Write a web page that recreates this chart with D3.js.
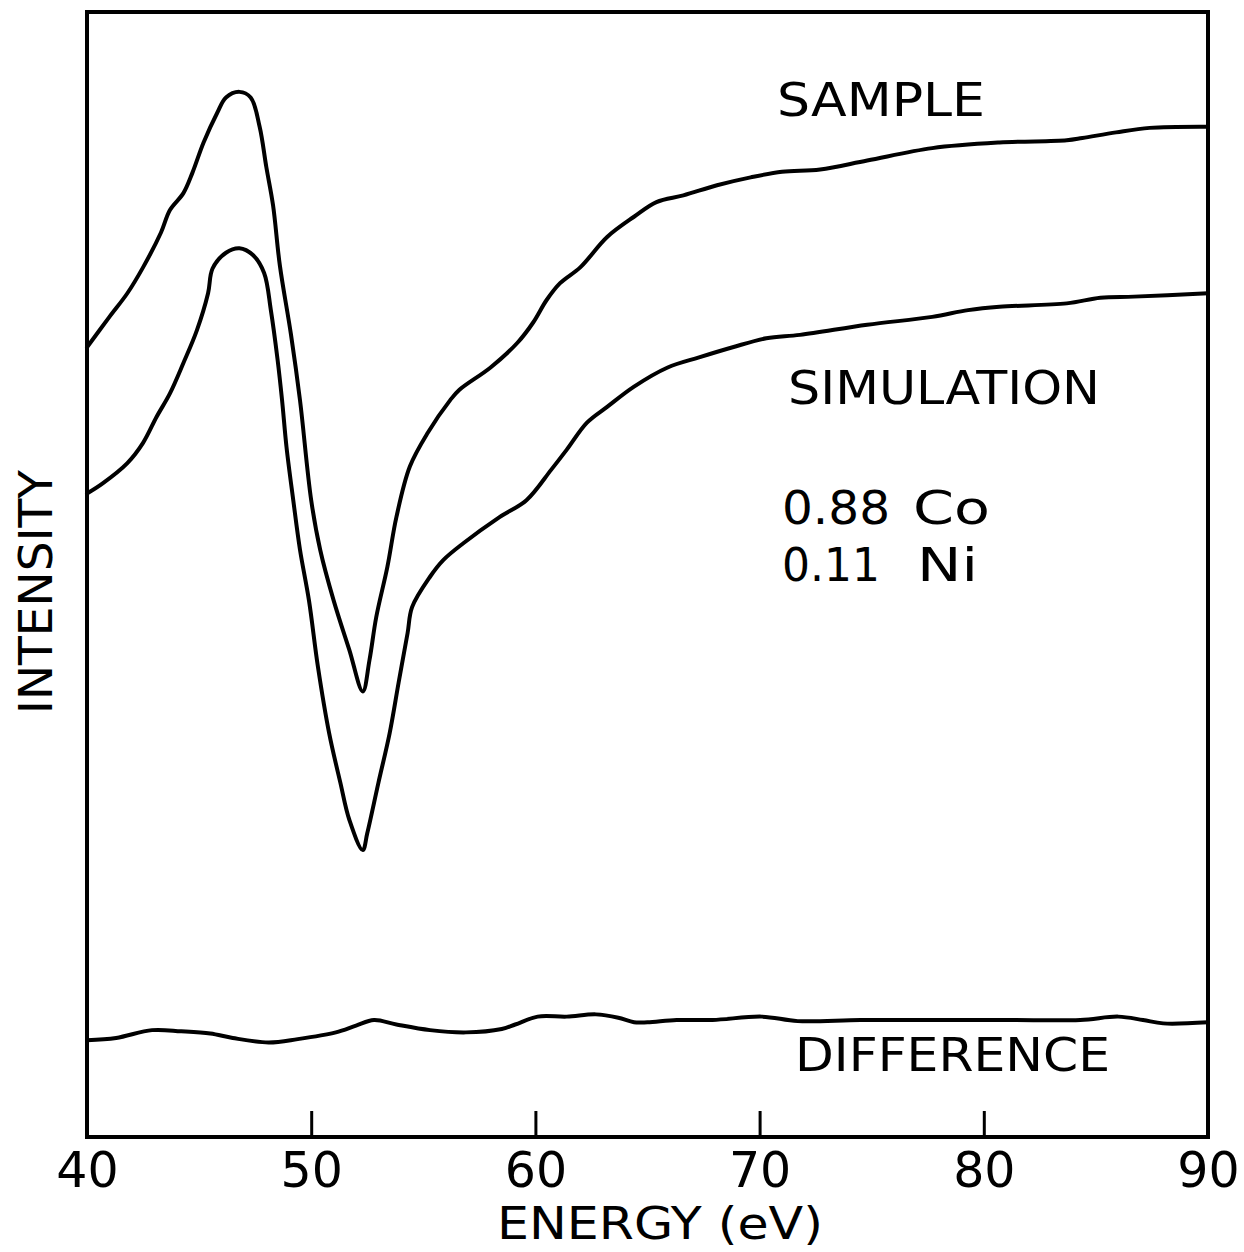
<!DOCTYPE html>
<html>
<head>
<meta charset="utf-8">
<script src="https://cdn.jsdelivr.net/npm/d3@7"></script>
<style>
  body { margin: 0; background: #fff; }
  svg text { font-family: "DejaVu Sans", sans-serif; fill: #000; }
</style>
</head>
<body>
<div id="chart"></div>
<script>
// energies (eV) and intensities (arb. units, 0-100)
const sampleE = [40.0, 41.0, 41.8, 42.5, 43.3, 43.7, 44.3, 44.7, 45.2, 45.8, 46.2, 46.8, 47.3, 47.7, 48.0, 48.3, 48.6, 49.1, 49.5, 50.0, 50.4, 51.0, 51.7, 52.3, 52.6, 52.9, 53.4, 53.8, 54.4, 55.2, 56.2, 56.6, 58.0, 59.2, 59.9, 60.5, 61.1, 62.0, 63.2, 64.4, 65.4, 66.6, 68.1, 69.6, 71.0, 72.7, 74.8, 77.7, 80.7, 83.7, 84.4, 85.9, 87.4, 90.0];
const sampleI = [70.2, 72.9, 75.0, 77.3, 80.4, 82.4, 83.9, 85.7, 88.4, 91.0, 92.4, 92.9, 92.4, 89.8, 86.2, 82.8, 77.5, 71.3, 65.5, 56.6, 52.2, 47.7, 43.3, 39.6, 42.4, 46.2, 50.7, 55.1, 59.6, 62.6, 65.5, 66.4, 68.4, 70.6, 72.4, 74.4, 75.9, 77.3, 80.0, 81.8, 83.1, 83.7, 84.6, 85.3, 85.8, 86.0, 86.8, 87.9, 88.4, 88.6, 88.8, 89.3, 89.7, 89.8];

const simE = [40.0, 40.7, 41.8, 42.5, 43.1, 43.7, 44.3, 44.9, 45.4, 45.6, 46.2, 46.8, 47.4, 47.9, 48.2, 48.5, 48.7, 48.9, 49.2, 49.5, 49.9, 50.3, 50.8, 51.3, 51.7, 52.3, 52.5, 53.0, 53.5, 53.9, 54.3, 54.5, 55.3, 55.9, 56.8, 58.4, 59.6, 60.7, 61.4, 62.3, 63.2, 64.4, 65.9, 67.3, 68.8, 70.3, 71.8, 74.8, 77.7, 79.3, 80.7, 83.7, 85.2, 86.7, 90.0];
const simI = [57.2, 58.1, 59.9, 61.7, 64.0, 66.1, 68.8, 71.7, 75.0, 77.2, 78.6, 79.0, 78.4, 76.8, 73.5, 69.1, 65.5, 61.3, 56.6, 52.2, 47.7, 41.8, 35.9, 31.5, 28.2, 25.5, 27.0, 31.5, 35.9, 40.4, 44.8, 47.1, 49.8, 51.3, 52.8, 55.1, 56.6, 59.3, 61.1, 63.5, 64.9, 66.7, 68.4, 69.3, 70.2, 71.0, 71.3, 72.2, 72.9, 73.5, 73.8, 74.1, 74.6, 74.7, 75.0];

const diffE = [40.0, 41.3, 42.9, 44.2, 45.5, 46.5, 48.1, 49.4, 51.1, 52.0, 52.8, 53.8, 55.3, 56.9, 58.5, 59.1, 60.1, 61.4, 62.7, 63.7, 64.4, 65.0, 66.3, 67.9, 70.1, 71.7, 74.5, 77.8, 81.1, 84.3, 86.0, 87.1, 88.0, 90.0];
const diffI = [8.6, 8.8, 9.5, 9.4, 9.2, 8.8, 8.4, 8.7, 9.3, 9.9, 10.4, 10.0, 9.5, 9.3, 9.6, 10.0, 10.7, 10.7, 10.9, 10.6, 10.2, 10.2, 10.4, 10.4, 10.7, 10.3, 10.4, 10.4, 10.4, 10.4, 10.7, 10.4, 10.1, 10.2];

const xTicks = [40, 50, 60, 70, 80, 90];

const W = 1244, H = 1252;
const margin = {top: 12, right: 36, bottom: 115, left: 87};

const svg = d3.select("#chart").append("svg")
  .attr("width", W)
  .attr("height", H);

const x = d3.scaleLinear().domain([40, 90]).range([margin.left, W - margin.right]);
const y = d3.scaleLinear().domain([0, 100]).range([H - margin.bottom, margin.top]);

// curves
const line = d3.line()
  .x(d => x(d[0]))
  .y(d => y(d[1]))
  .curve(d3.curveCatmullRom.alpha(0.5));

const series = [
  d3.zip(sampleE, sampleI),
  d3.zip(simE, simI),
  d3.zip(diffE, diffI)
];

svg.selectAll("path.curve")
  .data(series)
  .enter()
  .append("path")
  .attr("class", "curve")
  .attr("d", line)
  .attr("fill", "none")
  .attr("stroke", "#000")
  .attr("stroke-width", 4)
  .attr("stroke-linejoin", "round")
  .attr("stroke-linecap", "round");

// frame
svg.append("rect")
  .attr("x", x(40))
  .attr("y", y(100))
  .attr("width", x(90) - x(40))
  .attr("height", y(0) - y(100))
  .attr("fill", "none")
  .attr("stroke", "#000")
  .attr("stroke-width", 4);

// x axis, ticks pointing up into the plot
const xAxis = d3.axisBottom(x)
  .tickValues(xTicks)
  .tickSizeInner(-26)
  .tickSizeOuter(0)
  .tickPadding(15)
  .tickFormat(d3.format("d"));

const gx = svg.append("g")
  .attr("transform", "translate(0," + y(0) + ")")
  .call(xAxis);
gx.select(".domain").remove();
gx.selectAll(".tick line")
  .attr("stroke", "#000")
  .attr("stroke-width", 3)
  .attr("opacity", d => (d === 40 || d === 90) ? 0 : 1);
gx.selectAll(".tick text")
  .attr("font-size", 49)
  .attr("font-family", "DejaVu Sans")
  .attr("fill", "#000");

// axis titles
svg.append("text")
  .attr("x", 660)
  .attr("y", 1239)
  .attr("text-anchor", "middle")
  .attr("font-size", 44)
  .attr("textLength", 326)
  .attr("lengthAdjust", "spacingAndGlyphs")
  .text("ENERGY (eV)");

svg.append("text")
  .attr("transform", "translate(52,592) rotate(-90)")
  .attr("text-anchor", "middle")
  .attr("font-size", 46)
  .attr("textLength", 244)
  .attr("lengthAdjust", "spacingAndGlyphs")
  .text("INTENSITY");

// in-plot labels
const labels = [
  {t: "SAMPLE", x: 777, y: 116, w: 208},
  {t: "SIMULATION", x: 788, y: 404, w: 312},
  {t: "0.88", x: 782, y: 524, w: 108},
  {t: "Co", x: 913, y: 524, w: 77},
  {t: "0.11", x: 782, y: 581, w: 98},
  {t: "Ni", x: 917, y: 581, w: 61},
  {t: "DIFFERENCE", x: 795, y: 1071, w: 315}
];

svg.selectAll("text.lbl")
  .data(labels)
  .enter()
  .append("text")
  .attr("class", "lbl")
  .attr("x", d => d.x)
  .attr("y", d => d.y)
  .attr("font-size", 46)
  .attr("textLength", d => d.w)
  .attr("lengthAdjust", "spacingAndGlyphs")
  .text(d => d.t);
</script>
</body>
</html>
